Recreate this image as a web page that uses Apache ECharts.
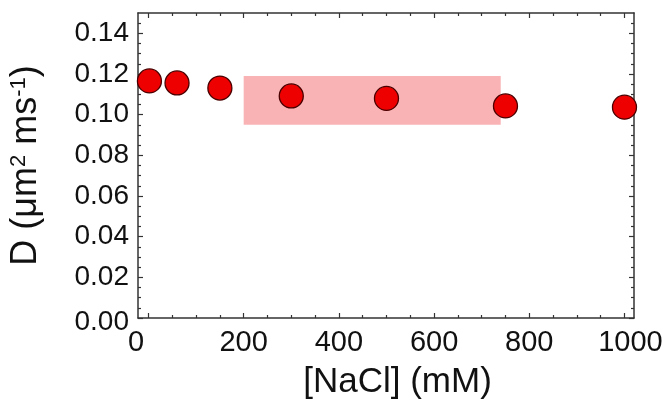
<!DOCTYPE html>
<html><head><meta charset="utf-8">
<script src="https://cdn.jsdelivr.net/npm/echarts@6/dist/echarts.min.js"></script>
<style>html,body{margin:0;padding:0;background:#fff}#c{width:670px;height:408px}</style>
</head><body><div id="c"></div>
<script>
// ---- data ----
const naclMM = [2, 60, 150, 300, 500, 750, 1000];
const diffD = [0.1166, 0.1156, 0.1131, 0.1092, 0.1080, 0.1043, 0.1037];
const xTickLabels = [0, 200, 400, 600, 800, 1000];
const xMinorTicks = [50, 100, 150, 250, 300, 350, 450, 500, 550, 650, 700, 750, 850, 900, 950];
const yTickLabels = [0, 0.02, 0.04, 0.06, 0.08, 0.10, 0.12, 0.14];
const yMinorTicks = [0.005, 0.01, 0.015, 0.025, 0.03, 0.035, 0.045, 0.05, 0.055, 0.065, 0.07, 0.075,
  0.085, 0.09, 0.095, 0.105, 0.11, 0.115, 0.125, 0.13, 0.135, 0.145];
const bandX = [200, 740];
const bandY = [0.095, 0.119];
const xRange = [-22, 1020];
const yRange = [0, 0.15];

// ---- style ----
const FONT = '"Liberation Sans", Arial, Helvetica, sans-serif';
const TXT = '#111';
const frame = { color: '#333', width: 1.5 };
const axisBase = (dim, pos, ticks, len, withLine) => ({
  type: 'value', position: pos,
  min: dim === 'x' ? xRange[0] : yRange[0], max: dim === 'x' ? xRange[1] : yRange[1],
  axisLine: { show: withLine, onZero: false, lineStyle: frame },
  axisTick: { show: true, inside: true, length: len, customValues: ticks, lineStyle: { color: '#333', width: 1.2 } },
  axisLabel: { show: false },
  splitLine: { show: false }
});

const xMain = axisBase('x', 'bottom', xTickLabels, 5, true);
xMain.axisLabel = {
  show: true, customValues: xTickLabels, margin: 10,
  fontFamily: FONT, fontSize: 29, color: TXT,
  formatter: v => v === 0 ? '{l|0}' : (v === 1000 ? '{r|1000}' : String(v)),
  rich: {
    l: { fontFamily: FONT, fontSize: 29, color: TXT, padding: [0, 25, 0, 0] },
    r: { fontFamily: FONT, fontSize: 29, color: TXT, padding: [0, 0, 0, 12] }
  }
};
xMain.name = '[NaCl] (mM)';
xMain.nameLocation = 'middle';
xMain.nameGap = 47;
xMain.nameTextStyle = { fontFamily: FONT, fontSize: 35, color: TXT, padding: [0, 0, 0, 23] };

const yMain = axisBase('y', 'left', yTickLabels, 5, true);
yMain.axisLabel = {
  show: true, customValues: yTickLabels, margin: 9,
  fontFamily: FONT, fontSize: 28, color: TXT,
  formatter: v => v === 0 ? '{b|0.00}' : v.toFixed(2),
  rich: { b: { fontFamily: FONT, fontSize: 28, color: TXT, padding: [9, 0, 0, 0] } }
};
yMain.name = '{a|D (\u03bcm}{s|2}{a| ms}{s|-1}{a|)}';
yMain.nameLocation = 'middle';
yMain.nameGap = 94;
yMain.nameTextStyle = {
  rich: {
    a: { fontFamily: FONT, fontSize: 36, color: TXT },
    s: { fontFamily: FONT, fontSize: 22, color: TXT, verticalAlign: 'top' }
  }
};

const chart = echarts.init(document.getElementById('c'), null, { renderer: 'canvas' });
chart.setOption({
  animation: false,
  backgroundColor: '#fff',
  grid: { left: 138, right: 36, top: 13, bottom: 90, containLabel: false, outerBoundsMode: 'none' },
  xAxis: [
    xMain,
    axisBase('x', 'top', xTickLabels, 5, true),
    axisBase('x', 'bottom', xMinorTicks, 3, false),
    axisBase('x', 'top', xMinorTicks, 3, false)
  ],
  yAxis: [
    yMain,
    axisBase('y', 'right', yTickLabels, 5, true),
    axisBase('y', 'left', yMinorTicks, 3, false),
    axisBase('y', 'right', yMinorTicks, 3, false)
  ],
  series: [
    {
      type: 'scatter', data: [], z: 1, xAxisIndex: 0, yAxisIndex: 0,
      markArea: {
        silent: true,
        itemStyle: { color: '#f9b3b4' },
        data: [[{ xAxis: bandX[0], yAxis: bandY[0] }, { xAxis: bandX[1], yAxis: bandY[1] }]]
      }
    },
    {
      type: 'scatter', z: 5, xAxisIndex: 0, yAxisIndex: 0,
      symbol: 'circle', symbolSize: 24,
      itemStyle: { color: '#ee0000', borderColor: '#4a0000', borderWidth: 1.3, opacity: 1 },
      data: naclMM.map((x, i) => [x, diffD[i]])
    }
  ]
});
</script></body></html>
